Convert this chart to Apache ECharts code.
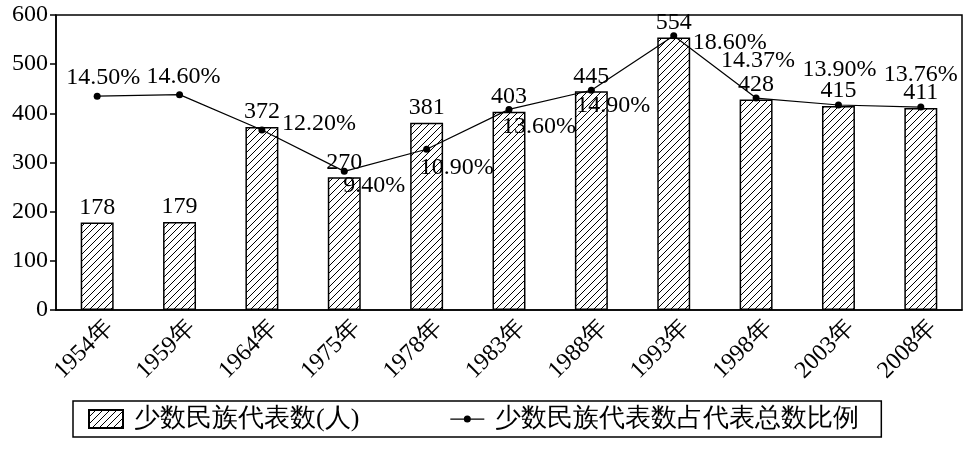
<!DOCTYPE html>
<html><head><meta charset="utf-8">
<script src="https://cdn.jsdelivr.net/npm/echarts@6/dist/echarts.min.js"></script>
<style>html,body{margin:0;padding:0;background:#fff}#c{width:972px;height:456px}</style>
</head><body><div id="c"></div>
<script>
var categories = ['1954年','1959年','1964年','1975年','1978年','1983年','1988年','1993年','1998年','2003年','2008年'];
var deputies = [178, 179, 372, 270, 381, 403, 445, 554, 428, 415, 411];
var ratios = [14.50, 14.60, 12.20, 9.40, 10.90, 13.60, 14.90, 18.60, 14.37, 13.90, 13.76];
var barName = '少数民族代表数(人)';
var lineName = '少数民族代表数占代表总数比例';

// label offsets for ratio labels (style only)
var ratioLabelOffsets = [[6,-18],[4,-18],[57,-6],[30,14],[30,18],[30,17],[22,15],[56,7],[2,-37],[1,-35],[0,-32]];

var serif = 'Liberation Serif';

function hatch() {
  var s = 7, c = document.createElement('canvas');
  c.width = s; c.height = s;
  var g = c.getContext('2d');
  g.fillStyle = '#fff'; g.fillRect(0,0,s,s);
  g.strokeStyle = '#000'; g.lineWidth = 1;
  g.beginPath();
  g.moveTo(-1, s+1); g.lineTo(s+1, -1);
  g.moveTo(-1, 1); g.lineTo(1, -1);
  g.moveTo(s-1, s+1); g.lineTo(s+1, s-1);
  g.stroke();
  return c;
}
var pattern = {image: hatch(), repeat: 'repeat'};

var lineData = ratios.map(function(v, i){
  return {value: v, label: {offset: ratioLabelOffsets[i]}};
});

var lineIcon = 'path://M0,0M34,18M0,8.4h34v1.3h-34zM20.5,9a3.5,3.5 0 1,1 -7,0a3.5,3.5 0 1,1 7,0z';

var chart = echarts.init(document.getElementById('c'), null, {renderer: 'canvas'});
chart.setOption({
  animation: false,
  grid: {left: 56, right: 10, top: 15, bottom: 146, show: true, borderColor: '#000', borderWidth: 1.5, backgroundColor: 'transparent'},
  legend: {
    left: 73, top: 401,
    padding: [5, 22, 5, 15],
    itemGap: 91,
    itemWidth: 34, itemHeight: 18,
    borderColor: '#000', borderWidth: 1.5, borderRadius: 0,
    textStyle: {fontFamily: serif, fontSize: 26, color: '#000', padding: [0,0,0,6]},
    data: [
      {name: barName, icon: 'rect'},
      {name: lineName, icon: lineIcon, itemStyle: {color: '#000', borderWidth: 0}}
    ]
  },
  xAxis: {
    type: 'category', data: categories,
    axisLine: {lineStyle: {color: '#000', width: 1.5}},
    axisTick: {inside: true, length: 8, lineStyle: {color: '#000', width: 1.5}, alignWithLabel: false},
    axisLabel: {rotate: 45, interval: 0, fontFamily: serif, fontSize: 24, color: '#000', margin: 26, padding: [0, -17, 0, 0]}
  },
  yAxis: [
    {type: 'value', min: 0, max: 600, interval: 100,
     axisLine: {show: true, lineStyle: {color: '#000', width: 1.5}},
     axisTick: {show: true, inside: false, length: 6, lineStyle: {color: '#000', width: 1.5}},
     splitLine: {show: false},
     axisLabel: {fontFamily: serif, fontSize: 24, color: '#000', margin: 8}},
    {type: 'value', min: 0, max: 20, show: false, splitLine: {show: false}}
  ],
  series: [
    {name: barName, type: 'bar', data: deputies, barWidth: '40%',
     itemStyle: {color: pattern, borderColor: '#000', borderWidth: 1.5},
     label: {show: true, position: 'top', distance: 3, fontFamily: serif, fontSize: 24, color: '#000'}},
    {name: lineName, type: 'line', yAxisIndex: 1, data: lineData,
     symbol: 'circle', symbolSize: 7,
     itemStyle: {color: '#000'},
     lineStyle: {color: '#000', width: 1.2},
     z: 5,
     label: {show: true, position: 'inside', fontFamily: serif, fontSize: 24, color: '#000',
       formatter: function(p){ return p.value.toFixed(2) + '%'; }}}
  ]
});
</script></body></html>
